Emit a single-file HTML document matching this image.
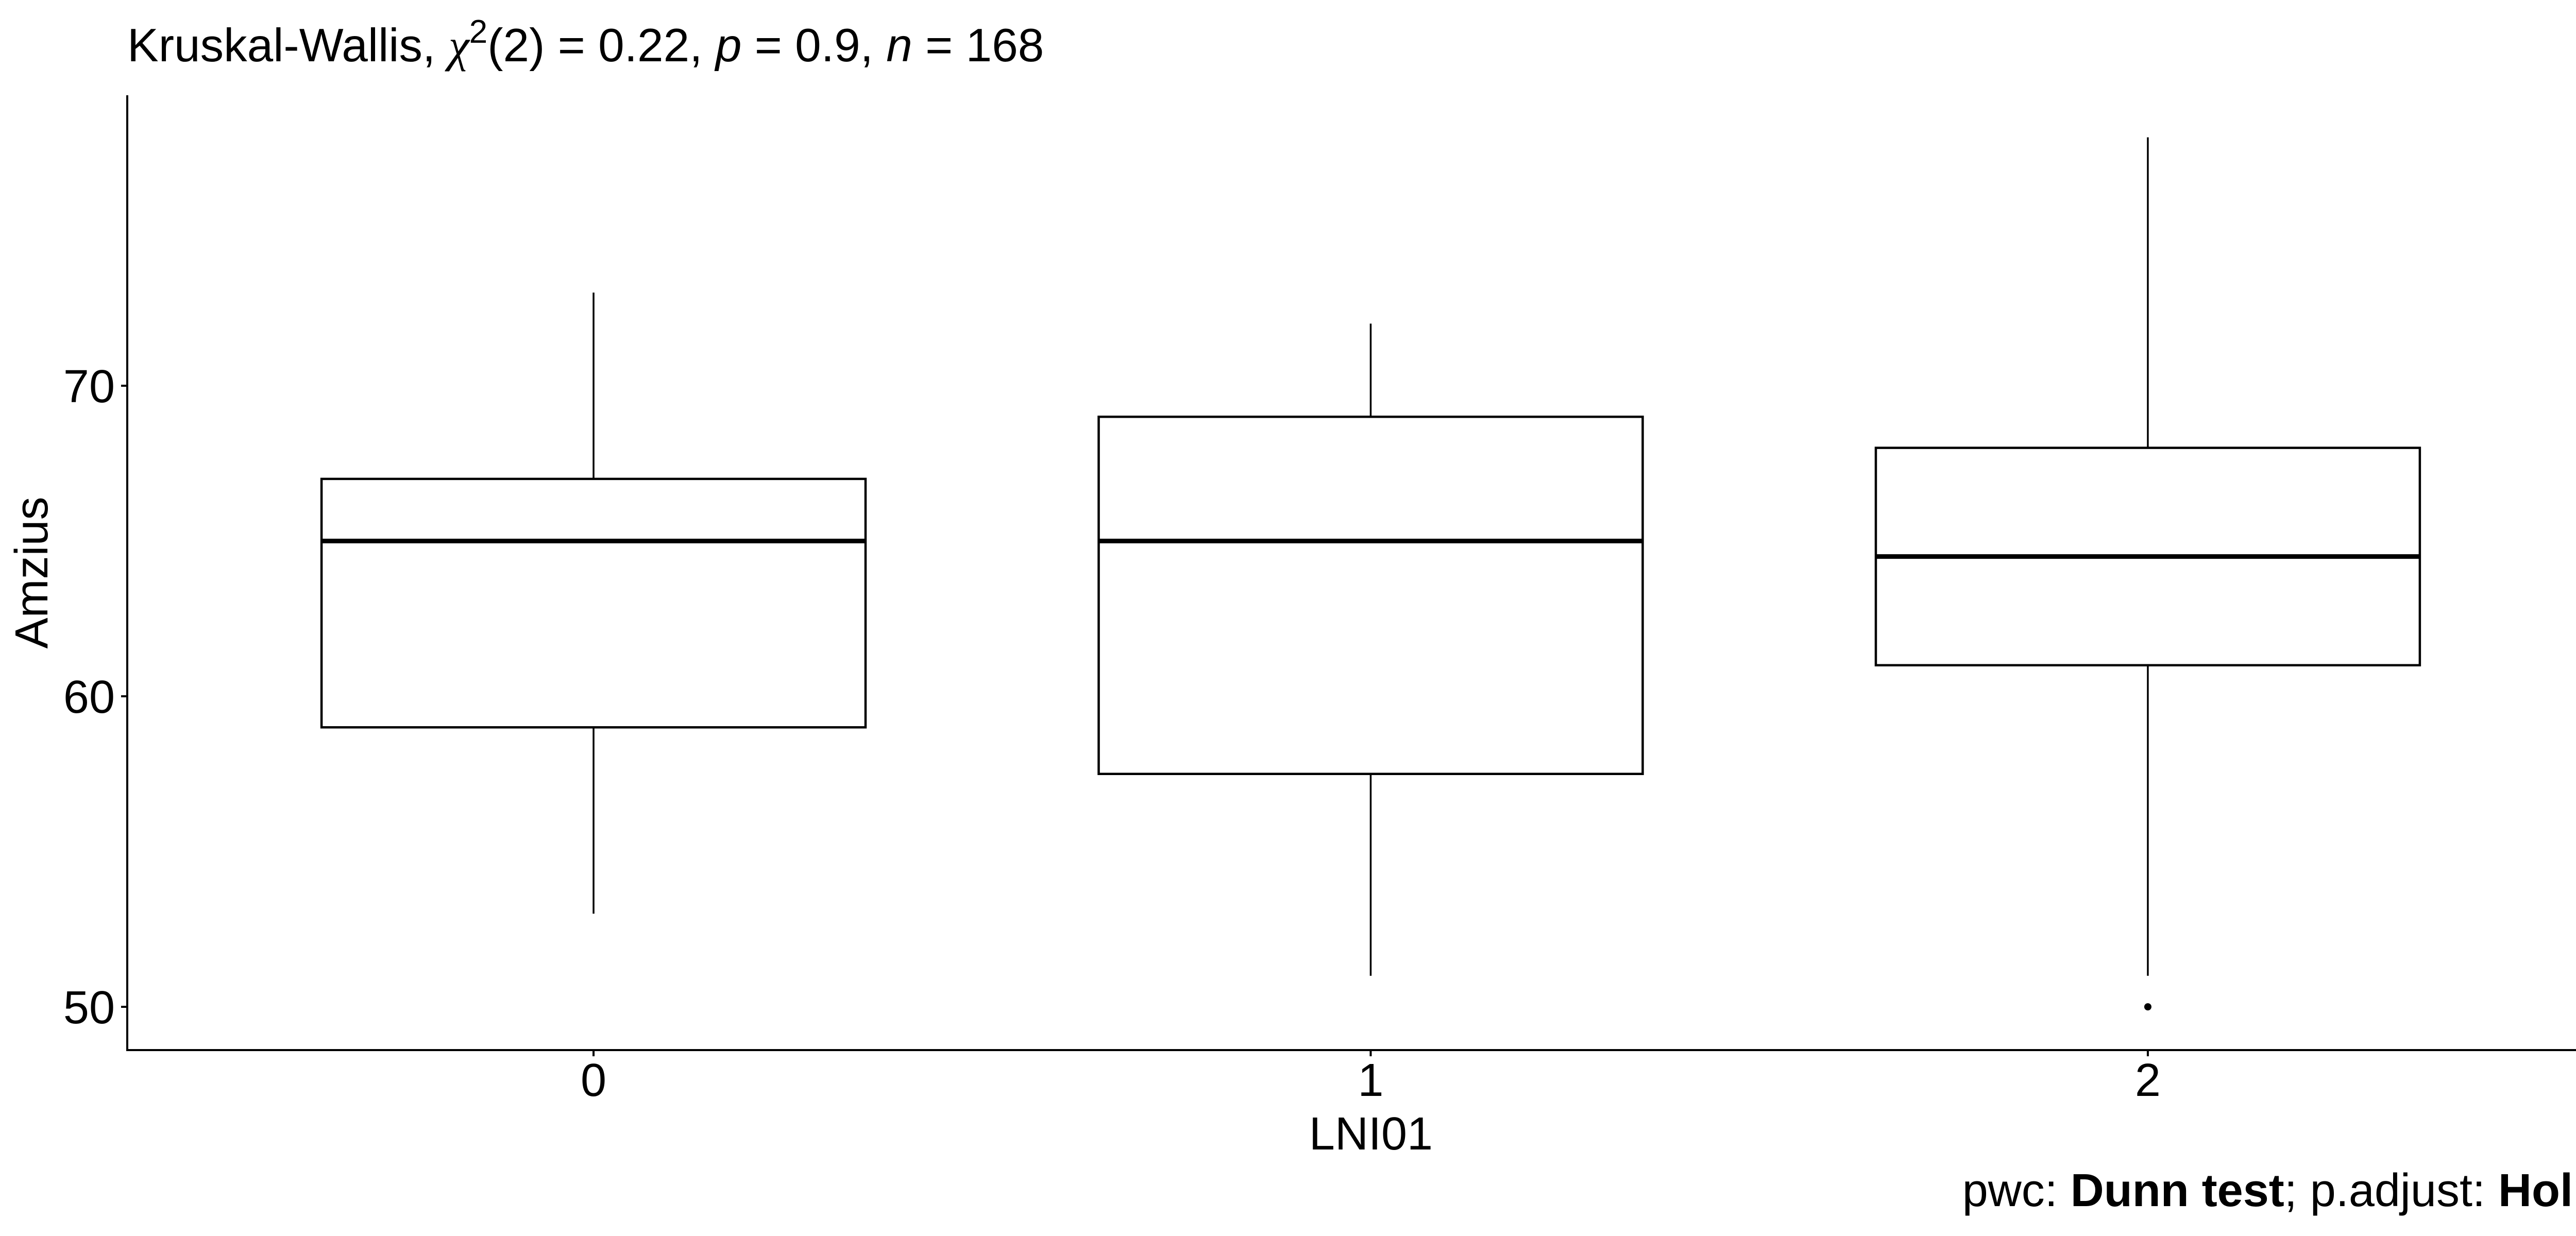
<!DOCTYPE html>
<html><head><meta charset="utf-8"><style>
html,body{margin:0;padding:0;background:#fff;}
body{position:relative;width:5100px;height:2400px;overflow:hidden;}
svg{display:block;font-family:"Liberation Sans",Arial,sans-serif;}
#caption{position:absolute;right:26px;top:2262px;font-family:"Liberation Sans",Arial,sans-serif;font-size:90px;line-height:100px;white-space:nowrap;color:#000;}
</style></head><body>
<svg id="chart" width="5100" height="2400" viewBox="0 0 5100 2400" xmlns="http://www.w3.org/2000/svg">
<rect width="5100" height="2400" fill="#fff"/>
<text x="247" y="119" font-size="91" fill="#000">Kruskal-Wallis, <tspan font-family="'Liberation Serif',serif" font-style="italic">χ</tspan><tspan font-size="64" dy="-36">2</tspan><tspan dy="36">(2) = 0.22, </tspan><tspan font-style="italic">p</tspan> = 0.9, <tspan font-style="italic">n</tspan> = 168</text>
<g id="marks"></g>
<g id="axes"></g>
<text transform="translate(92,1112) rotate(-90)" text-anchor="middle" font-size="90" fill="#000">Amzius</text>
<text x="2661" y="2232" text-anchor="middle" font-size="90" fill="#000">LNI01</text>
</svg>
<div id="caption">pwc: <b>Dunn test</b>; p.adjust: <b>Holm</b></div>
<script>
const categories = ["0", "1", "2"];
const whiskerLow = [53, 51, 51];
const q1 = [59, 57.5, 61];
const median = [65, 65, 64.5];
const q3 = [67, 69, 68];
const whiskerHigh = [73, 72, 78];
const outlierGroup = [2];
const outlierValue = [50];
const yTicks = [50, 60, 70];

const NS = "http://www.w3.org/2000/svg";
const pLeft = 247, pRight = 5074, pTop = 185, pBottom = 2039;
const yMin = 50 - (pBottom - 1955) / 60.3, yMax = 50 + (1955 - pTop) / 60.3;
function yPos(v){ return pBottom - (v - yMin) / (yMax - yMin) * (pBottom - pTop); }
const step = (pRight - pLeft) / (categories.length + 0.2);
function xPos(i){ return pLeft + step * (0.6 + i); }
const halfW = step * 0.35;
function mk(tag, attrs, parent){ const e = document.createElementNS(NS, tag); for (const k in attrs) e.setAttribute(k, attrs[k]); parent.appendChild(e); return e; }
const marks = document.getElementById("marks");
const axes = document.getElementById("axes");

categories.forEach((c, i) => {
  const g = mk("g", {}, marks);
  
  
  const wu = mk("line", {x1:xPos(i), x2:xPos(i), y1:yPos(q3[i]), y2:yPos(whiskerHigh[i]), stroke:"#000", "stroke-width":3.5}, g);
  
  
  const wl = mk("line", {x1:xPos(i), x2:xPos(i), y1:yPos(q1[i]), y2:yPos(whiskerLow[i]), stroke:"#000", "stroke-width":3.5}, g);
  
  
  const r = mk("rect", {x:xPos(i)-halfW, y:yPos(q3[i]), width:2*halfW, height:yPos(q1[i])-yPos(q3[i]), fill:"#fff", stroke:"#000", "stroke-width":4.5}, g);
  
  
  const m = mk("line", {x1:xPos(i)-halfW, x2:xPos(i)+halfW, y1:yPos(median[i]), y2:yPos(median[i]), stroke:"#000", "stroke-width":9}, g);
  
  
});
outlierGroup.forEach((gi, k) => {
  const p = mk("circle", {cx:xPos(gi), cy:yPos(outlierValue[k]), r:7, fill:"#000"}, marks);
  
  
});

const ya = mk("line", {x1:pLeft, x2:pLeft, y1:pTop, y2:pBottom+2, stroke:"#000", "stroke-width":4}, axes);


const xa = mk("line", {x1:pLeft-2, x2:pRight, y1:pBottom, y2:pBottom, stroke:"#000", "stroke-width":4}, axes);


yTicks.forEach(t => {
  const tk = mk("line", {x1:pLeft-12, x2:pLeft, y1:yPos(t), y2:yPos(t), stroke:"#000", "stroke-width":4}, axes);
  
  
  const tl = mk("text", {x:pLeft-24, y:yPos(t)+32, "text-anchor":"end", "font-size":90, fill:"#000"}, axes);
  tl.textContent = t;
  
  
});
categories.forEach((c, i) => {
  const tk = mk("line", {x1:xPos(i), x2:xPos(i), y1:pBottom, y2:pBottom+12, stroke:"#000", "stroke-width":4}, axes);
  
  
  const tl = mk("text", {x:xPos(i), y:pBottom+89, "text-anchor":"middle", "font-size":90, fill:"#000"}, axes);
  tl.textContent = c;
  
  
});
</script>
</body></html>
